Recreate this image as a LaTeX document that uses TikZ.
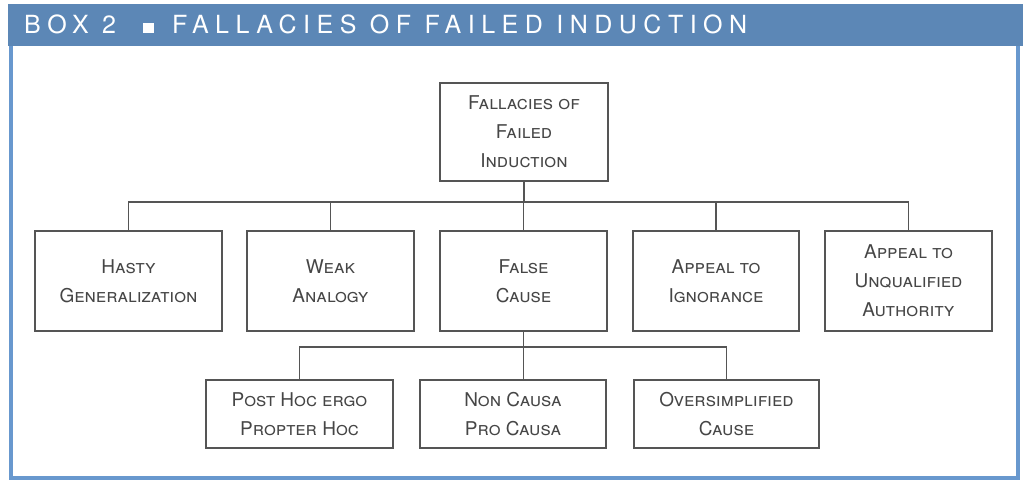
\documentclass[tikz,border=0pt]{standalone}
\usepackage{fontspec}
\setmainfont{TeX Gyre Heros}
\newfontfamily\headfont[LetterSpace=26]{TeX Gyre Heros}
\definecolor{boxblue}{RGB}{92,135,182}
\definecolor{edgeblue}{RGB}{104,152,206}
\definecolor{linegray}{RGB}{85,85,85}
\definecolor{textgray}{RGB}{70,70,70}
\tikzset{
  fbox/.style={draw=linegray, line width=1.4pt, fill=white, rectangle,
    align=center, text=textgray, font=\fontsize{19}{29}\selectfont\scshape,
    inner sep=0pt},
  link/.style={draw=linegray, line width=1.4pt}
}
\begin{document}
\begin{tikzpicture}[x=1pt,y=-1pt]
\useasboundingbox (0,0) rectangle (1023,481);
% frame of the box
\fill[white] (0,0) rectangle (1023,481);
\fill[edgeblue] (8.5,40) rectangle (13,480);
\fill[edgeblue] (8.5,476) rectangle (1020,480);
\fill[edgeblue] (1016,40) rectangle (1020,480);
\fill[boxblue] (8,4) rectangle (1023,46);
\node[anchor=base west, text=white, inner sep=0pt,
  font=\headfont\fontsize{25}{30}\selectfont] (title) at (24,34)
  {BOX 2 \kern13pt\raisebox{0.5pt}{\rule{11pt}{10pt}}\kern5pt{} FALLACIES OF FAILED INDUCTION};

% boxes
\node[fbox, minimum width=168pt, minimum height=98pt] (root) at (524,132)
  {Fallacies of\\Failed\\Induction};
\node[fbox, minimum width=187pt, minimum height=100pt] (hasty) at (128.5,281)
  {Hasty\\Generalization};
\node[fbox, minimum width=167pt, minimum height=100pt] (weak) at (330.5,281)
  {Weak\\Analogy};
\node[fbox, minimum width=167pt, minimum height=100pt] (false) at (523.5,281)
  {False\\Cause};
\node[fbox, minimum width=166pt, minimum height=100pt] (ign) at (716,281)
  {Appeal to\\Ignorance};
\node[fbox, minimum width=167pt, minimum height=100pt] (unq) at (908.5,281)
  {Appeal to\\Unqualified\\Authority};
\node[fbox, minimum width=187pt, minimum height=68pt] (posthoc) at (299.5,414)
  {Post Hoc ergo\\Propter Hoc};
\node[fbox, minimum width=186pt, minimum height=68pt] (noncausa) at (513,414)
  {Non Causa\\Pro Causa};
\node[fbox, minimum width=185pt, minimum height=68pt] (oversimp) at (726.5,414)
  {Oversimplified\\Cause};

% connectors
\coordinate (b1) at (524,202);
\coordinate (b2) at (523.5,347);
\draw[link] (root.south) -- (b1);
\draw[link] (hasty.north) |- (b1) -| (unq.north);
\draw[link] (weak.north) -- (weak.north |- b1);
\draw[link] (false.north) -- (false.north |- b1);
\draw[link] (ign.north) -- (ign.north |- b1);
\draw[link] (posthoc.north) |- (b2) -| (oversimp.north);
\draw[link] (false.south) -- (false.south |- noncausa.north);
\end{tikzpicture}
\end{document}
